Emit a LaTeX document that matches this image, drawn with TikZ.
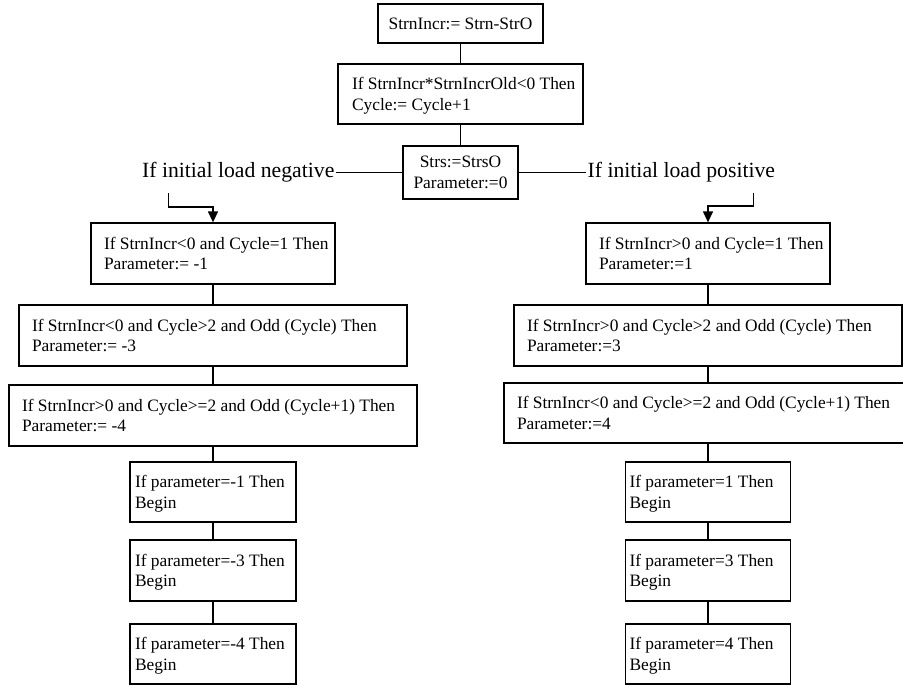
\documentclass[tikz,border=0pt]{standalone}
\usepackage{fontspec}
\setmainfont{Liberation Serif}
\usetikzlibrary{arrows.meta}
\begin{document}
\begin{tikzpicture}[x=1pt, y=1pt, line width=1.3pt,
    box/.style={draw, inner sep=0pt},
    txt/.style={inner sep=0pt, align=left, text depth=0pt, font=\fontsize{17.4}{20.7}\selectfont},
    cond/.style={inner xsep=1pt, inner ysep=0pt, font=\fontsize{21.7}{26}\selectfont},
    tip/.style={-{Triangle[length=11pt, width=10pt]}}]
    \useasboundingbox (0,0) rectangle (903,-685);

    % Common part
    \node[box, txt, minimum width=165pt, minimum height=39pt] (strn) at (460.5,-23.5) {StrnIncr:= Strn-StrO};
    \node[box, minimum width=245pt, minimum height=60pt] (cyc) at (460.5,-94) {};
    \node[txt, anchor=west] (cyct) at ([xshift=14pt]cyc.west) {If StrnIncr*StrnIncrOld<0 Then\\Cycle:= Cycle+1};
    \node[box, txt, align=center, minimum width=115pt, minimum height=53pt] (init) at (460.5,-172.5) {Strs:=StrsO\\Parameter:=0};
    \node[cond, anchor=east] (neg) at (336,-172.5) {If initial load negative};
    \node[cond, anchor=west] (pos) at (586,-172.5) {If initial load positive};
    \draw (strn) -- (cyc);
    \draw (cyc) -- (init);
    \draw (neg.east) -- (init.west);
    \draw (init.east) -- (pos.west);

    % Negative initial load
    \node[box, minimum width=244pt, minimum height=61pt] (neg1) at (213,-253.5) {};
    \node[txt, anchor=west] (neg1t) at ([xshift=13pt]neg1.west) {If StrnIncr<0 and Cycle=1 Then\\Parameter:= -1};
    \node[box, minimum width=388pt, minimum height=61pt] (neg2) at (213,-335.5) {};
    \node[txt, anchor=west] (neg2t) at ([xshift=13pt]neg2.west) {If StrnIncr<0 and Cycle>2 and Odd (Cycle) Then\\Parameter:= -3};
    \node[box, minimum width=408pt, minimum height=61pt] (neg3) at (213,-415.5) {};
    \node[txt, anchor=west] (neg3t) at ([xshift=13pt]neg3.west) {If StrnIncr>0 and Cycle>=2 and Odd (Cycle+1) Then\\Parameter:= -4};
    \node[box, minimum width=166pt, minimum height=60pt] (neg4) at (213,-492) {};
    \node[txt, anchor=west] (neg4t) at ([xshift=5pt]neg4.west) {If parameter=-1 Then\\Begin};
    \node[box, minimum width=166pt, minimum height=61pt] (neg5) at (213,-570.5) {};
    \node[txt, anchor=west] (neg5t) at ([xshift=5pt]neg5.west) {If parameter=-3 Then\\Begin};
    \node[box, minimum width=166pt, minimum height=60pt] (neg6) at (213,-654) {};
    \node[txt, anchor=west] (neg6t) at ([xshift=5pt]neg6.west) {If parameter=-4 Then\\Begin};
    \draw[tip] ([xshift=28pt, yshift=-10pt]neg.south west) -- ++(0,-14) -| (neg1.north);
    \draw (neg1) -- (neg2) -- (neg3) -- (neg4) -- (neg5) -- (neg6);

    % Positive initial load
    \node[box, minimum width=244pt, minimum height=61pt] (pos1) at (708,-253.5) {};
    \node[txt, anchor=west] (pos1t) at ([xshift=13pt]pos1.west) {If StrnIncr>0 and Cycle=1 Then\\Parameter:=1};
    \node[box, minimum width=388pt, minimum height=61pt] (pos2) at (708,-335.5) {};
    \node[txt, anchor=west] (pos2t) at ([xshift=13pt]pos2.west) {If StrnIncr>0 and Cycle>2 and Odd (Cycle) Then\\Parameter:=3};
    \node[box, minimum width=408pt, minimum height=60pt] (pos3) at (708,-413) {};
    \node[txt, anchor=west] (pos3t) at ([xshift=13pt]pos3.west) {If StrnIncr<0 and Cycle>=2 and Odd (Cycle+1) Then\\Parameter:=4};
    \node[box, minimum width=165pt, minimum height=60pt] (pos4) at (708,-492) {};
    \node[txt, anchor=west] (pos4t) at ([xshift=4pt]pos4.west) {If parameter=1 Then\\Begin};
    \node[box, minimum width=165pt, minimum height=61pt] (pos5) at (708,-570.5) {};
    \node[txt, anchor=west] (pos5t) at ([xshift=4pt]pos5.west) {If parameter=3 Then\\Begin};
    \node[box, minimum width=165pt, minimum height=60pt] (pos6) at (708,-654) {};
    \node[txt, anchor=west] (pos6t) at ([xshift=4pt]pos6.west) {If parameter=4 Then\\Begin};
    \draw[tip] ([xshift=-23pt, yshift=-10pt]pos.south east) -- ++(0,-13) -| (pos1.north);
    \draw (pos1) -- (pos2) -- (pos3) -- (pos4) -- (pos5) -- (pos6);
\end{tikzpicture}
\end{document}
